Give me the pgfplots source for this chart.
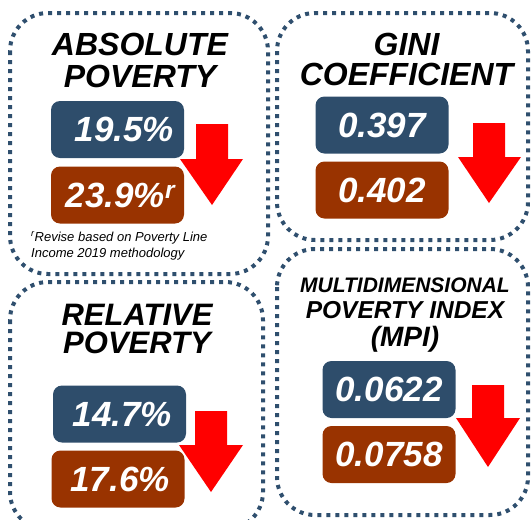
\documentclass[border=0pt]{standalone}
\usepackage{fontspec}
\setmainfont{Liberation Sans}
\usepackage{pgfplots}
\pgfplotsset{compat=1.18}
\definecolor{boxblue}{HTML}{2E4D6B}
\definecolor{boxbrown}{HTML}{993300}
\definecolor{dotblue}{HTML}{2F4F6E}
\definecolor{arrowred}{HTML}{FF0000}
\tikzset{
  panel/.style={draw=dotblue, line width=4pt, dash pattern=on 4pt off 5pt, rounded corners=38pt},
  ttl/.style={anchor=base, inner sep=0pt, align=center},
  valbox/.style={anchor=center, rounded corners=9pt, minimum width=133pt, minimum height=57pt,
    inner sep=0pt, text=white, font=\fontsize{35}{35}\selectfont\bfseries\itshape},
}
\begin{document}
\begin{tikzpicture}
\useasboundingbox (0,0) rectangle (531pt,520pt);
\clip (0,0) rectangle (531pt,520pt);
\begin{axis}[width=531pt, height=520pt, scale only axis,
  xmin=0, xmax=531, ymin=0, ymax=520, y dir=reverse,
  hide axis, clip=false]

% panels
\draw[panel] (axis cs:10,13) rectangle (axis cs:268,274);
\draw[panel] (axis cs:277,13) rectangle (axis cs:528,240);
\draw[panel] (axis cs:10,282) rectangle (axis cs:263,530);
\draw[panel] (axis cs:277,249) rectangle (axis cs:528,515);

% titles (anchor = baseline of last line)
\node[ttl, font=\fontsize{32}{32}\selectfont\bfseries\itshape] at (axis cs:140,87) {ABSOLUTE\\POVERTY};
\node[ttl, font=\fontsize{32}{30}\selectfont\bfseries\itshape] at (axis cs:406.5,85) {GINI\\COEFFICIENT};
\node[ttl, font=\fontsize{31}{28}\selectfont\bfseries\itshape] at (axis cs:137,353) {RELATIVE\\POVERTY};
\node[ttl, font=\fontsize{21}{26}\selectfont\bfseries\itshape] at (axis cs:405,346)
  {MULTIDIMENSIONAL\\{\fontsize{24.5}{26}\selectfont POVERTY INDEX}\\[2pt]{\fontsize{28}{28}\selectfont (MPI)}};

% current values (blue)
\addplot[only marks, mark=none, point meta=explicit symbolic, nodes near coords,
  nodes near coords style={valbox, fill=boxblue}]
  coordinates {(117.5,129.5) [\hspace{14pt}19.5\%] (382,125) [0.397]
               (119.5,414) [\hspace{6pt}14.7\%] (389,389.5) [0.0622]};
% previous values (brown)
\addplot[only marks, mark=none, point meta=explicit symbolic, nodes near coords,
  nodes near coords style={valbox, fill=boxbrown}]
  coordinates {(117.5,195) [\hspace{6pt}23.9\%\textsuperscript{r}] (382,190) [0.402]
               (118,479) [\hspace{4pt}17.6\%] (389,454.5) [0.0758]};

% arrows
\addplot[fill=arrowred, draw=none] coordinates {(196,124) (228,124) (228,159) (243,159) (212,205) (180,159) (196,159)};
\addplot[fill=arrowred, draw=none] coordinates {(473,123) (505,123) (505,157) (521,157) (489,203) (458,157) (473,157)};
\addplot[fill=arrowred, draw=none] coordinates {(195,411) (227,411) (227,445) (243,445) (211,492) (179,445) (195,445)};
\addplot[fill=arrowred, draw=none] coordinates {(472,385) (504,385) (504,418) (520,418) (488,467) (456,418) (472,418)};

% footnote (anchor = baseline of last line)
\node[anchor=base west, inner sep=0pt, align=left, font=\fontsize{13}{16}\selectfont\itshape] at (axis cs:31,257)
  {\textsuperscript{r}Revise based on Poverty Line\\Income 2019 methodology};
\end{axis}
\end{tikzpicture}
\end{document}
